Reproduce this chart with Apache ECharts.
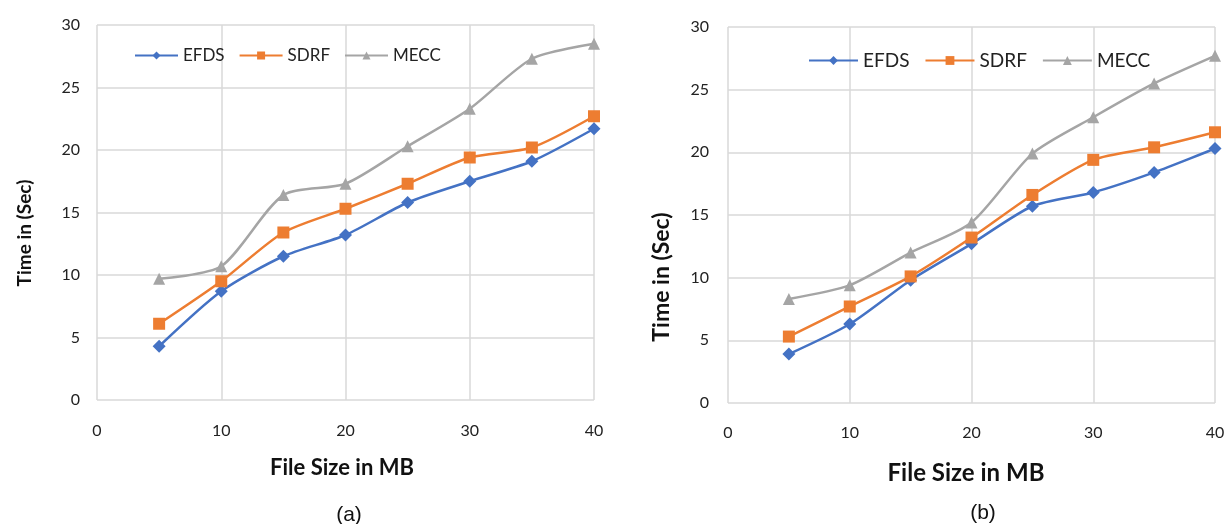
<!DOCTYPE html>
<html>
<head>
<meta charset="UTF-8">
<title>File size vs time</title>
<script src="https://cdn.jsdelivr.net/npm/echarts@6/dist/echarts.min.js"></script>
<style>
  html, body { margin: 0; padding: 0; background: #fff; }
  #main { width: 1228px; height: 524px; }
</style>
</head>
<body>
<div id="main"></div>
<script>
// file sizes (MB)
var sizes = [5, 10, 15, 20, 25, 30, 35, 40];
var names = ['EFDS', 'SDRF', 'MECC'];

// panel (a)
var efdsA = [4.3, 8.7, 11.5, 13.2, 15.8, 17.5, 19.1, 21.7];
var sdrfA = [6.1, 9.5, 13.4, 15.3, 17.3, 19.4, 20.2, 22.7];
var meccA = [9.7, 10.7, 16.4, 17.3, 20.3, 23.3, 27.3, 28.5];

// panel (b)
var efdsB = [3.9, 6.3, 9.8, 12.7, 15.7, 16.8, 18.4, 20.3];
var sdrfB = [5.3, 7.7, 10.1, 13.2, 16.6, 19.4, 20.4, 21.6];
var meccB = [8.3, 9.4, 12.0, 14.4, 19.9, 22.8, 25.5, 27.7];

var colors = ['#4472c4', '#ed7d31', '#a5a5a5'];
var symbols = ['diamond', 'rect', 'triangle'];
var font = 'Lato, "Open Sans", sans-serif';

function pairs(ys) {
  return sizes.map(function (x, i) { return [x, ys[i]]; });
}

function mkSeries(idx, data, k) {
  return {
    name: names[k],
    type: 'line',
    xAxisIndex: idx,
    yAxisIndex: idx,
    data: pairs(data),
    smooth: 0.25,
    symbol: symbols[k],
    symbolSize: k === 0 ? 13 : 12,
    color: colors[k],
    lineStyle: { width: 2.5, color: colors[k] },
    itemStyle: { color: colors[k] }
  };
}

function xAx(idx, margin) {
  return {
    gridIndex: idx, type: 'value', min: 0, max: 40, interval: 10,
    axisLine: { show: false }, axisTick: { show: false },
    axisLabel: { margin: margin, fontFamily: font, fontSize: 16, color: '#222' },
    splitLine: { show: true, lineStyle: { color: '#d9d9d9', width: 1.5 } }
  };
}

function yAx(idx, margin) {
  return {
    gridIndex: idx, type: 'value', min: 0, max: 30, interval: 5,
    axisLine: { show: false }, axisTick: { show: false },
    axisLabel: { margin: margin, fontFamily: font, fontSize: 16, color: '#222' },
    splitLine: { show: true, lineStyle: { color: '#d9d9d9', width: 1.5 } }
  };
}

// axis titles, centred on (x, y)
function label(text, x, y, size, rotated) {
  return {
    type: 'text', x: x, y: y, rotation: rotated ? Math.PI / 2 : 0,
    style: { text: text, x: 0, y: 0, align: 'center', verticalAlign: 'middle',
      font: 'bold ' + size + 'px ' + font, fill: '#111' }
  };
}

var chart = echarts.init(document.getElementById('main'));
chart.setOption({
  animation: false,
  backgroundColor: '#fff',
  title: [
    { text: '(a)', left: 344, top: 500, textAlign: 'center',
      textStyle: { fontFamily: 'Liberation Sans, Arial', fontWeight: 'normal', fontSize: 21, color: '#111' } },
    { text: '(b)', left: 978, top: 498, textAlign: 'center',
      textStyle: { fontFamily: 'Liberation Sans, Arial', fontWeight: 'normal', fontSize: 21, color: '#111' } }
  ],
  graphic: [
    label('Time in (Sec)', 25, 233, 19, true),
    label('Time in (Sec)', 662, 277, 23, true),
    label('File Size in MB', 342, 468, 22, false),
    label('File Size in MB', 966, 473, 24, false)
  ],
  legend: [
    { left: 129, top: 42, data: names, itemWidth: 43, itemHeight: 10, itemGap: 14,
      textStyle: { fontFamily: font, fontSize: 17, color: '#222' } },
    { left: 803, top: 46, data: names, itemWidth: 49, itemHeight: 11, itemGap: 15,
      textStyle: { fontFamily: font, fontSize: 19, color: '#222' } }
  ],
  grid: [
    { left: 97, top: 25, width: 497, height: 375 },
    { left: 728, top: 27, width: 487, height: 376 }
  ],
  xAxis: [xAx(0, 23), xAx(1, 22)],
  yAxis: [yAx(0, 17), yAx(1, 19)],
  series: [
    mkSeries(0, efdsA, 0), mkSeries(0, sdrfA, 1), mkSeries(0, meccA, 2),
    mkSeries(1, efdsB, 0), mkSeries(1, sdrfB, 1), mkSeries(1, meccB, 2)
  ]
});
</script>
</body>
</html>
